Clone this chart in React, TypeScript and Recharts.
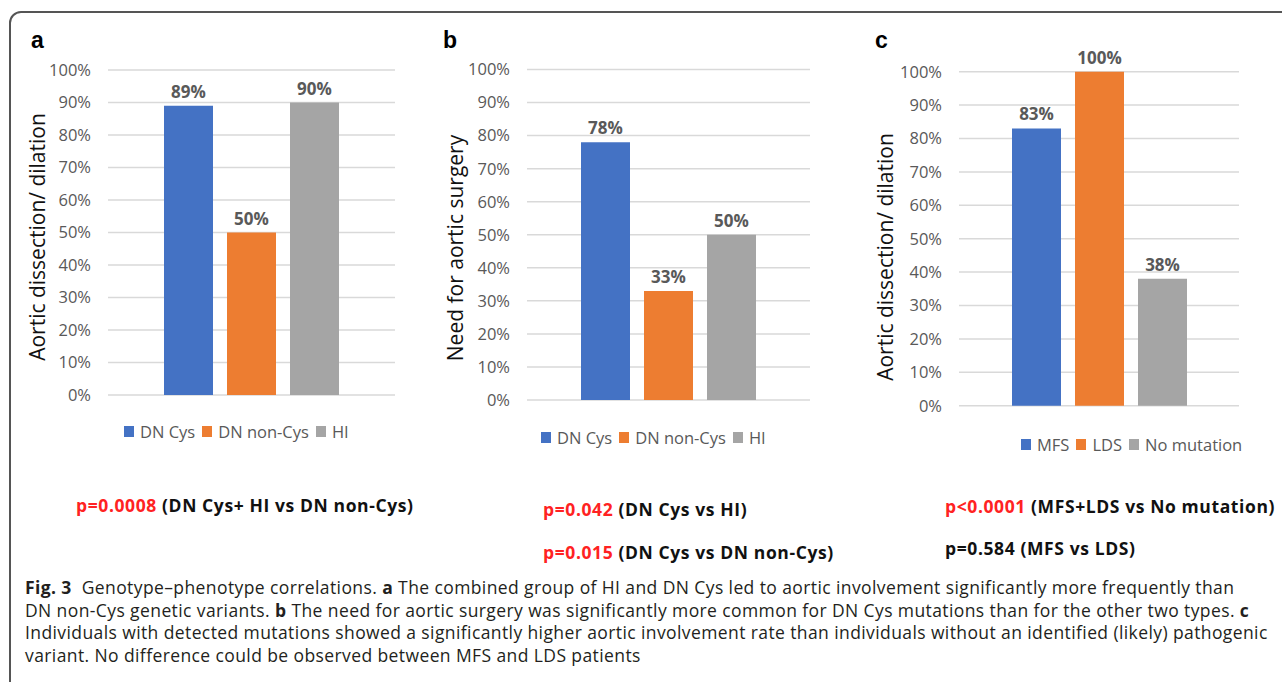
import React from 'react';
import { BarChart, Bar, XAxis, YAxis, CartesianGrid, LabelList, Legend } from 'recharts';

const yTicks = [0, 10, 20, 30, 40, 50, 60, 70, 80, 90, 100];
const seriesColors = ['#4472C4', '#ED7D31', '#A5A5A5'];

const seriesA = ['DN Cys', 'DN non-Cys', 'HI'];
const valuesA = [89, 50, 90];

const seriesB = ['DN Cys', 'DN non-Cys', 'HI'];
const valuesB = [78, 33, 50];

const seriesC = ['MFS', 'LDS', 'No mutation'];
const valuesC = [83, 100, 38];

const FONT = "'Open Sans', sans-serif";

type PanelProps = {
  series: string[];
  values: number[];
  left: number;
  top: number;
  width: number;
  plotTop: number;
  plotBottom: number;
  plotLeft: number;
  plotRight: number;
  legendLeft: number;
  legendTop: number;
};

const makeLegend = (series: string[]) => (props: any) => {
  const payload = [...(props.payload || [])].sort(
    (a: any, b: any) => series.indexOf(a.value) - series.indexOf(b.value)
  );
  return (
    <div style={{ display: 'flex', alignItems: 'center', fontFamily: FONT, fontSize: 16.5, color: '#595959', whiteSpace: 'nowrap' }}>
      {payload.map((p: any, i: number) => (
        <div key={i} style={{ display: 'flex', alignItems: 'center', marginRight: 7 }}>
          <span style={{ width: 10, height: 11, background: p.color, marginRight: 6, display: 'inline-block' }} />
          <span>{p.value}</span>
        </div>
      ))}
    </div>
  );
};

function Panel(p: PanelProps) {
  const row: Record<string, number | string> = { name: '' };
  p.series.forEach((s, i) => {
    row[s] = p.values[i];
  });
  const data = [row];
  const yAxisWidth = p.plotLeft - p.left;
  const height = p.plotBottom - p.top + 70;
  return (
    <div style={{ position: 'absolute', left: p.left, top: p.top }}>
      <BarChart
        width={p.width}
        height={height}
        data={data}
        margin={{ top: p.plotTop - p.top, bottom: p.top + height - p.plotBottom, left: 0, right: p.left + p.width - p.plotRight }}
        barSize={49}
        barGap={14}
      >
        <CartesianGrid horizontal vertical={false} stroke="#D9D9D9" strokeWidth={1.5} />
        <XAxis dataKey="name" hide />
        <YAxis
          domain={[0, 100]}
          ticks={yTicks}
          tickFormatter={(v: number) => `${v}%`}
          axisLine={false}
          tickLine={false}
          tickSize={0}
          tickMargin={17}
          width={yAxisWidth}
          tick={{ fill: '#595959', fontSize: 16.5, fontFamily: FONT }}
          interval={0}
        />
        <Legend
          content={makeLegend(p.series)}
          verticalAlign="middle"
          align="center"
          wrapperStyle={{ left: p.legendLeft - p.left, top: p.legendTop - p.top, width: 'auto' }}
        />
        {p.series.map((s, i) => (
          <Bar key={s} dataKey={s} fill={seriesColors[i]} isAnimationActive={false}>
            <LabelList
              dataKey={s}
              position="top"
              offset={8}
              formatter={(v: any) => `${v}%`}
              style={{ fill: '#595959', fontSize: 17, fontWeight: 700, fontFamily: FONT }}
            />
          </Bar>
        ))}
      </BarChart>
    </div>
  );
}

const yTitle = (text: string, cx: number, cy: number) => (
  <div
    style={{
      position: 'absolute',
      left: cx,
      top: cy,
      transform: 'translate(-50%, -50%) rotate(-90deg)',
      fontFamily: FONT,
      fontSize: 21,
      color: '#111',
      whiteSpace: 'nowrap',
      lineHeight: '24px',
    }}
  >
    {text}
  </div>
);

const panelLetter = (t: string, x: number) => (
  <div style={{ position: 'absolute', left: x, top: 29, fontFamily: "'Liberation Sans', Arial, sans-serif", fontWeight: 700, fontSize: 23, lineHeight: '23px', color: '#000' }}>
    {t}
  </div>
);

const pText = (red: string, rest: string, x: number, cy: number, redColor = '#F22') => (
  <div style={{ position: 'absolute', left: x, top: cy - 11, fontFamily: FONT, fontWeight: 700, fontSize: 17.5, letterSpacing: '0.6px', lineHeight: '21px', whiteSpace: 'nowrap', color: '#111' }}>
    <span style={{ color: redColor }}>{red}</span> {rest}
  </div>
);

export default function App() {
  return (
    <div style={{ position: 'absolute', left: 0, top: 0, width: 1282, height: 682, overflow: 'hidden', background: '#fff' }}>
      <div style={{ position: 'absolute', left: 9, top: 11, width: 1300, height: 720, border: '2px solid #555', borderRadius: 12, boxSizing: 'border-box' }} />

      {panelLetter('a', 31)}
      {panelLetter('b', 443)}
      {panelLetter('c', 875)}

      <Panel series={seriesA} values={valuesA} left={48} top={30} width={357}
        plotTop={70} plotBottom={395} plotLeft={108} plotRight={395} legendLeft={124} legendTop={420} />
      <Panel series={seriesB} values={valuesB} left={467} top={30} width={353}
        plotTop={69.5} plotBottom={400} plotLeft={527} plotRight={810} legendLeft={541} legendTop={426} />
      <Panel series={seriesC} values={valuesC} left={899} top={30} width={350}
        plotTop={71.7} plotBottom={405.7} plotLeft={959} plotRight={1239} legendLeft={1021} legendTop={433} />

      {yTitle('Aortic dissection/ dilation', 37, 237)}
      {yTitle('Need for aortic surgery', 455, 248)}
      {yTitle('Aortic dissection/ dilation', 885, 257)}

      {pText('p=0.0008', '(DN Cys+ HI vs DN non-Cys)', 76, 506)}
      {pText('p=0.042', '(DN Cys vs HI)', 543, 510)}
      {pText('p=0.015', '(DN Cys vs DN non-Cys)', 543, 553)}
      {pText('p<0.0001', '(MFS+LDS vs No mutation)', 945, 507)}
      {pText('p=0.584', '(MFS vs LDS)', 945, 549, '#111')}

      <div style={{ position: 'absolute', left: 25, top: 576, fontFamily: FONT, fontSize: 17.5, letterSpacing: '0.4px', lineHeight: '22.5px', color: '#231f20', whiteSpace: 'nowrap' }}>
        <b>Fig. 3</b>&nbsp; Genotype–phenotype correlations. <b>a</b> The combined group of HI and DN Cys led to aortic involvement significantly more frequently than
        <br />
        DN non-Cys genetic variants. <b>b</b> The need for aortic surgery was significantly more common for DN Cys mutations than for the other two types. <b>c</b>
        <br />
        Individuals with detected mutations showed a significantly higher aortic involvement rate than individuals without an identified (likely) pathogenic
        <br />
        variant. No difference could be observed between MFS and LDS patients
      </div>
    </div>
  );
}
